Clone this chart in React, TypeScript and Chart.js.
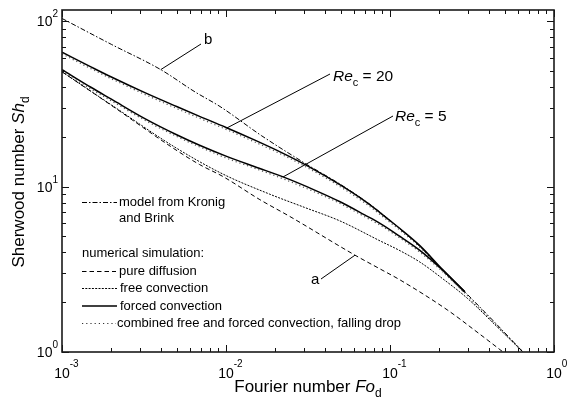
import React, { useEffect, useRef } from "react";
import { Chart, registerables } from "chart.js";

Chart.register(...registerables);

const FONT = '"Liberation Sans", Arial, Helvetica, sans-serif';

// curve b: model from Kronig and Brink
const kbFo = [0.001, 0.002, 0.004, 0.0065, 0.0092, 0.0165, 0.0312, 0.05, 0.0787, 0.115, 0.152, 0.21, 0.286, 0.45, 0.647];
const kbSh = [104, 72.5, 51, 37.3, 30.5, 20.3, 13.6, 10.3, 7.57, 5.55, 4.35, 3.12, 2.31, 1.46, 1.0];

// forced convection, Re_c = 20
const re20Fo = [0.001, 0.0015, 0.002, 0.0032, 0.005, 0.0069, 0.01, 0.015, 0.0223, 0.0312, 0.05, 0.0724, 0.1, 0.115, 0.152, 0.21, 0.286];
const re20Sh = [65, 53, 46, 37, 30.5, 26.6, 22.8, 19.1, 15.9, 13.4, 10.2, 8.0, 6.23, 5.58, 4.4, 3.14, 2.31];

// forced convection, Re_c = 5
const re5Fo = [0.001, 0.0015, 0.002, 0.0032, 0.005, 0.0069, 0.01, 0.015, 0.0223, 0.035, 0.0496, 0.07, 0.0869, 0.115, 0.152, 0.21, 0.286];
const re5Sh = [51, 39.9, 33.8, 25.8, 20.6, 17.8, 15.3, 13.2, 11.45, 9.5, 8.1, 6.75, 6.0, 5.0, 4.12, 3.12, 2.31];

// curve a: pure diffusion
const pdFo = [0.001, 0.002, 0.00489, 0.0069, 0.0096, 0.0161, 0.0245, 0.0612, 0.0869, 0.115, 0.223, 0.35, 0.489];
const pdSh = [49.5, 31, 16.8, 13.6, 11.5, 8.34, 6.6, 3.85, 3.18, 2.73, 1.8, 1.29, 1.0];

// free convection
const fcFo = [0.001, 0.002, 0.00489, 0.0096, 0.0185, 0.03, 0.0496, 0.0869, 0.115, 0.152, 0.21, 0.295, 0.45, 0.647];
const fcSh = [49.5, 31.2, 17.3, 11.9, 9.0, 7.5, 6.2, 4.7, 4.1, 3.5, 2.77, 2.12, 1.42, 1.0];

// combined free and forced convection, falling drop (Re_c = 20)
const c20Fo = [0.001, 0.0015, 0.002, 0.0032, 0.005, 0.0069, 0.01, 0.015, 0.0223, 0.0312, 0.05, 0.0724, 0.1, 0.115, 0.152, 0.21, 0.286, 0.45, 0.647];
const c20Sh = [63.5, 51.7, 44.9, 36.1, 29.7, 25.9, 22.2, 18.6, 15.5, 13.05, 9.95, 7.8, 6.08, 5.45, 4.3, 3.08, 2.27, 1.44, 1.0];

// combined free and forced convection, falling drop (Re_c = 5)
const c5Fo = [0.001, 0.0015, 0.002, 0.0032, 0.005, 0.0069, 0.01, 0.015, 0.0223, 0.035, 0.0496, 0.07, 0.0869, 0.115, 0.152, 0.21, 0.286];
const c5Sh = [49.8, 38.9, 33.0, 25.2, 20.1, 17.4, 14.9, 12.9, 11.15, 9.25, 7.9, 6.58, 5.85, 4.88, 4.02, 3.05, 2.27];

const xTickVals = [0.001, 0.01, 0.1, 1];
const xTickExps = ["-3", "-2", "-1", "0"];
const yTickVals = [1, 10, 100];
const yTickExps = ["0", "1", "2"];

const X_MIN = 0.001;
const X_MAX = 1;
const Y_MIN = 1;
const Y_MAX = 117;

const legendKronig = ["model from Kronig", "and Brink"];
const legendHeader = "numerical simulation:";
const legendPure = "pure diffusion";
const legendFree = "free convection";
const legendForced = "forced convection";
const legendCombined = "combined free and forced convection, falling drop";

const pts = (xs: number[], ys: number[]) => xs.map((v, i) => ({ x: v, y: ys[i] }));

type Seg = { t: string; style?: "i" | "n"; size: number; dy?: number };

function drawSegs(ctx: CanvasRenderingContext2D, segs: Seg[], x: number, y: number) {
  let cx = x;
  for (const s of segs) {
    ctx.font = `${s.style === "i" ? "italic " : ""}${s.size}px ${FONT}`;
    ctx.fillText(s.t, cx, y + (s.dy || 0));
    cx += ctx.measureText(s.t).width;
  }
  return cx - x;
}
function segsWidth(ctx: CanvasRenderingContext2D, segs: Seg[]) {
  let w = 0;
  for (const s of segs) {
    ctx.font = `${s.style === "i" ? "italic " : ""}${s.size}px ${FONT}`;
    w += ctx.measureText(s.t).width;
  }
  return w;
}

const overlay = {
  id: "overlay",
  afterDraw(chart: any) {
    const { ctx, chartArea: a } = chart;
    const xs = chart.scales.x;
    const ys = chart.scales.y;
    ctx.save();
    ctx.fillStyle = "#000";
    ctx.strokeStyle = "#111";
    ctx.textBaseline = "alphabetic";
    ctx.textAlign = "left";

    // ticks
    ctx.lineWidth = 1;
    ctx.setLineDash([]);
    for (let d = -3; d <= 0; d++) {
      for (let m = 1; m <= 9; m++) {
        const v = m * Math.pow(10, d);
        if (v > X_MAX + 1e-9) continue;
        const px = Math.round(xs.getPixelForValue(v)) + 0.5;
        const len = m === 1 ? 7 : 4;
        ctx.beginPath();
        ctx.moveTo(px, a.bottom);
        ctx.lineTo(px, a.bottom - len);
        ctx.moveTo(px, a.top);
        ctx.lineTo(px, a.top + len);
        ctx.stroke();
      }
    }
    for (let d = 0; d <= 2; d++) {
      for (let m = 1; m <= 9; m++) {
        const v = m * Math.pow(10, d);
        if (v > Y_MAX) continue;
        const py = Math.round(ys.getPixelForValue(v)) + 0.5;
        const len = m === 1 ? 7 : 4;
        ctx.beginPath();
        ctx.moveTo(a.left, py);
        ctx.lineTo(a.left + len, py);
        ctx.moveTo(a.right, py);
        ctx.lineTo(a.right - len, py);
        ctx.stroke();
      }
    }

    // frame
    ctx.lineWidth = 1.6;
    ctx.strokeStyle = "#1a1a1a";
    ctx.strokeRect(a.left, a.top, a.right - a.left, a.bottom - a.top);

    // x tick labels
    xTickVals.forEach((v, i) => {
      const px = xs.getPixelForValue(v);
      ctx.font = `14px ${FONT}`;
      const w = ctx.measureText("10").width;
      ctx.fillText("10", px - w / 2, 378);
      ctx.font = `10px ${FONT}`;
      ctx.fillText(xTickExps[i], px + w / 2, 367);
    });
    // y tick labels
    yTickVals.forEach((v, i) => {
      const py = ys.getPixelForValue(v);
      ctx.font = `10px ${FONT}`;
      const we = ctx.measureText(yTickExps[i]).width;
      ctx.font = `14px ${FONT}`;
      const w = ctx.measureText("10").width;
      const right = 58;
      ctx.fillText("10", right - we - w, py + 5);
      ctx.font = `10px ${FONT}`;
      ctx.fillText(yTickExps[i], right - we, py - 4);
    });

    // axis titles
    const xt: Seg[] = [
      { t: "Fourier number ", size: 17 },
      { t: "Fo", style: "i", size: 17 },
      { t: "d", size: 12, dy: 5 },
    ];
    const xw = segsWidth(ctx, xt);
    drawSegs(ctx, xt, (a.left + a.right) / 2 - xw / 2, 392);

    const yt: Seg[] = [
      { t: "Sherwood number ", size: 17 },
      { t: "Sh", style: "i", size: 17 },
      { t: "d", size: 12, dy: 5 },
    ];
    const yw = segsWidth(ctx, yt);
    ctx.save();
    ctx.translate(24, 182);
    ctx.rotate(-Math.PI / 2);
    drawSegs(ctx, yt, -yw / 2, 0);
    ctx.restore();

    // annotation pointers
    ctx.lineWidth = 1;
    ctx.strokeStyle = "#000";
    const line = (x1: number, y1: number, x2: number, y2: number) => {
      ctx.beginPath();
      ctx.moveTo(x1, y1);
      ctx.lineTo(x2, y2);
      ctx.stroke();
    };
    line(xs.getPixelForValue(0.004), ys.getPixelForValue(51), 201, 44);
    ctx.font = `15px ${FONT}`;
    ctx.fillText("b", 204, 44);

    line(xs.getPixelForValue(0.0101), ys.getPixelForValue(22.6), 330, 74);
    drawSegs(ctx, [
      { t: "Re", style: "i", size: 15.5 },
      { t: "c", size: 11, dy: 5 },
      { t: " = 20", size: 15.5 },
    ], 333, 81);

    line(xs.getPixelForValue(0.0223), ys.getPixelForValue(11.45), 393, 116);
    drawSegs(ctx, [
      { t: "Re", style: "i", size: 15.5 },
      { t: "c", size: 11, dy: 5 },
      { t: " = 5", size: 15.5 },
    ], 395, 121);

    line(xs.getPixelForValue(0.0612), ys.getPixelForValue(3.85), 321, 279);
    ctx.font = `15px ${FONT}`;
    ctx.fillText("a", 311, 284);

    // legend
    const sample = (dash: number[], x1: number, x2: number, y: number, w: number, col: string) => {
      ctx.save();
      ctx.setLineDash(dash);
      ctx.lineWidth = w;
      ctx.strokeStyle = col;
      ctx.beginPath();
      ctx.moveTo(x1, y);
      ctx.lineTo(x2, y);
      ctx.stroke();
      ctx.restore();
    };
    ctx.font = `13px ${FONT}`;
    ctx.textBaseline = "middle";
    sample([5, 2, 1.5, 2], 82, 117, 202.5, 1, "#000");
    ctx.fillText(legendKronig[0], 119, 202);
    ctx.fillText(legendKronig[1], 119, 218);
    ctx.fillText(legendHeader, 82, 253);
    sample([4.5, 3], 82, 116, 271.5, 1, "#000");
    ctx.fillText(legendPure, 119, 271);
    sample([2, 1.3], 82, 117, 288.5, 1, "#000");
    ctx.fillText(legendFree, 120, 288);
    sample([], 82, 117, 306, 1.5, "#000");
    ctx.fillText(legendForced, 120, 306);
    sample([1.2, 3], 82, 116, 323.5, 1.2, "#333");
    ctx.fillText(legendCombined, 117, 323);

    ctx.restore();
  },
};

export default function App() {
  const ref = useRef<HTMLCanvasElement | null>(null);
  useEffect(() => {
    if (!ref.current) return;
    const common = { pointRadius: 0, fill: false, cubicInterpolationMode: "monotone" as const };
    const chart = new Chart(ref.current, {
      type: "line",
      data: {
        datasets: [
          { ...common, label: "combined Re 20", data: pts(c20Fo, c20Sh), borderColor: "#555", borderWidth: 1.2, borderDash: [1.2, 2.8], order: 6 },
          { ...common, label: "combined Re 5", data: pts(c5Fo, c5Sh), borderColor: "#555", borderWidth: 1.2, borderDash: [1.2, 2.8], order: 6 },
          { ...common, label: "pure diffusion", data: pts(pdFo, pdSh), borderColor: "#000", borderWidth: 1, borderDash: [4.5, 3], order: 4 },
          { ...common, label: "free convection", data: pts(fcFo, fcSh), borderColor: "#000", borderWidth: 1, borderDash: [2, 1.3], order: 4 },
          { ...common, label: "Kronig and Brink", data: pts(kbFo, kbSh), borderColor: "#000", borderWidth: 1, borderDash: [5, 2, 1.5, 2], order: 3 },
          { ...common, label: "Re 20", data: pts(re20Fo, re20Sh), borderColor: "#000", borderWidth: 1.5, order: 1 },
          { ...common, label: "Re 5", data: pts(re5Fo, re5Sh), borderColor: "#000", borderWidth: 1.5, order: 1 },
        ],
      },
      options: {
        animation: false,
        responsive: false,
        events: [],
        layout: { padding: { left: 62, top: 10, right: 14, bottom: 50 } },
        plugins: { legend: { display: false }, tooltip: { enabled: false } },
        scales: {
          x: {
            type: "logarithmic",
            min: X_MIN,
            max: X_MAX,
            ticks: { display: false },
            grid: { display: false },
            border: { display: false },
            afterFit: (s: any) => { s.height = 0; },
          },
          y: {
            type: "logarithmic",
            min: Y_MIN,
            max: Y_MAX,
            ticks: { display: false },
            grid: { display: false },
            border: { display: false },
            afterFit: (s: any) => { s.width = 0; },
          },
        },
      },
      plugins: [overlay],
    });
    return () => chart.destroy();
  }, []);
  return (
    <div style={{ position: "absolute", left: 0, top: 0, width: 568, height: 402, background: "#fff" }}>
      <canvas ref={ref} width={568} height={402} style={{ display: "block" }} />
    </div>
  );
}
